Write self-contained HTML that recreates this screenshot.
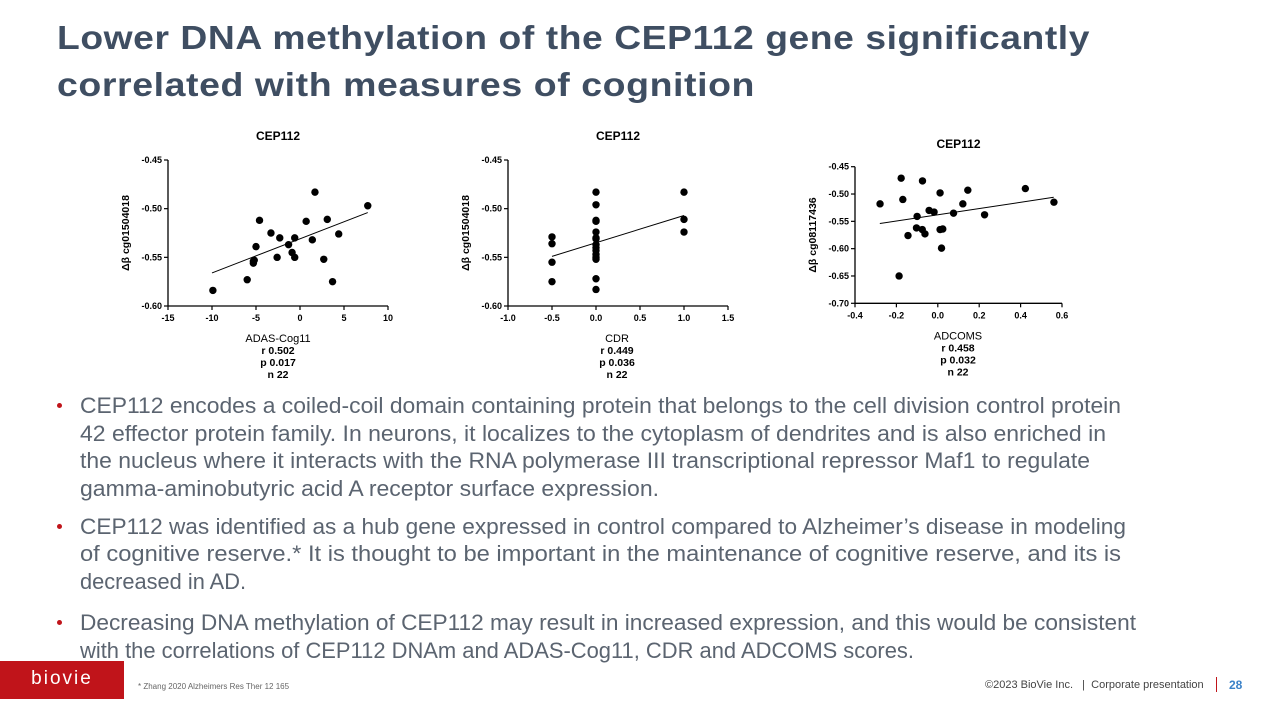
<!DOCTYPE html>
<html><head><meta charset="utf-8">
<style>
body{margin:0;width:1280px;height:720px;background:#fff;position:relative;overflow:hidden;font-family:"Liberation Sans",sans-serif}
.fit{position:absolute;white-space:nowrap;transform-origin:0 0}
.title{font-weight:bold;font-size:33px;color:#3f4e62;letter-spacing:0.5px}
.b{font-size:22px;color:#5b6470}
.dot{position:absolute;width:5px;height:5px;border-radius:50%;background:#c0141a}
</style></head><body>
<div class="fit title" data-w="1033" style="left:57px;top:19px">Lower DNA methylation of the CEP112 gene significantly</div>
<div class="fit title" data-w="698" style="left:57px;top:66px">correlated with measures of cognition</div>

<svg id="charts" width="1280" height="390" style="position:absolute;left:0;top:0" font-family="Liberation Sans, sans-serif"></svg>

<div>
<div class="dot" style="left:57px;top:403px"></div>
<div class="fit b" data-w="1041" style="left:80px;top:393px">CEP112 encodes a coiled-coil domain containing protein that belongs to the cell division control protein</div>
<div class="fit b" data-w="1026" style="left:80px;top:421px">42 effector protein family. In neurons, it localizes to the cytoplasm of dendrites and is also enriched in</div>
<div class="fit b" data-w="1010" style="left:80px;top:448px">the nucleus where it interacts with the RNA polymerase III transcriptional repressor Maf1 to regulate</div>
<div class="fit b" data-w="579" style="left:80px;top:476px">gamma-aminobutyric acid A receptor surface expression.</div>
</div>
<div>
<div class="dot" style="left:57px;top:524px"></div>
<div class="fit b" data-w="1046" style="left:80px;top:514px">CEP112 was identified as a hub gene expressed in control compared to Alzheimer’s disease in modeling</div>
<div class="fit b" data-w="1041" style="left:80px;top:541px">of cognitive reserve.*  It is thought to be important in the maintenance of cognitive reserve, and its is</div>
<div class="fit b" data-w="166" style="left:80px;top:569px">decreased in AD.</div>
</div>
<div>
<div class="dot" style="left:57px;top:620px"></div>
<div class="fit b" data-w="1056" style="left:80px;top:610px">Decreasing DNA methylation of CEP112 may result in increased expression, and this would be consistent</div>
<div class="fit b" data-w="834" style="left:80px;top:638px">with the correlations of CEP112 DNAm and ADAS-Cog11, CDR and ADCOMS scores.</div>
</div>

<div style="position:absolute;left:0;top:661px;width:124px;height:38px;background:#c0141a;color:#fff;font-size:19px;letter-spacing:2px;text-align:center;line-height:36px">biovie</div>
<div style="position:absolute;left:138px;top:682px;font-size:8px;color:#666">* Zhang 2020 Alzheimers Res Ther 12 165</div>
<div style="position:absolute;left:985px;top:679px;font-size:11px;color:#444">©2023 BioVie Inc. &nbsp;&nbsp;|&nbsp; Corporate presentation</div>
<div style="position:absolute;left:1216px;top:677px;width:1px;height:15px;background:#c0141a"></div>
<div style="position:absolute;left:1229px;top:678px;font-size:12px;font-weight:bold;color:#3b82c8">28</div>

<script>
// Chart 1: ADAS-Cog11
const adasX=[-9.9,-6.0,-5.3,-5.3,-5.0,-4.6,-3.3,-2.6,-2.3,-1.3,-0.9,-0.6,-0.6,0.7,1.4,1.7,2.7,3.1,3.7,4.4,7.7,-5.2];
const adasY=[-0.584,-0.573,-0.554,-0.556,-0.539,-0.512,-0.525,-0.550,-0.530,-0.537,-0.545,-0.550,-0.530,-0.513,-0.532,-0.483,-0.552,-0.511,-0.575,-0.526,-0.497,-0.553];
const adasFitX=[-10,7.7];
const adasFitY=[-0.566,-0.504];
const adasXTicks=[-15,-10,-5,0,5,10];
const adasYTicks=[-0.45,-0.50,-0.55,-0.60];
// Chart 2: CDR
const cdrX=[-0.5,-0.5,-0.5,-0.5,0,0,0,0,0,0,0,0,0,0,0,0,0,0,0,1,1,1];
const cdrY=[-0.529,-0.536,-0.555,-0.575,-0.483,-0.496,-0.512,-0.513,-0.524,-0.530,-0.531,-0.537,-0.540,-0.543,-0.547,-0.550,-0.552,-0.572,-0.583,-0.483,-0.511,-0.524];
const cdrFitX=[-0.5,1.0];
const cdrFitY=[-0.549,-0.507];
const cdrXTicks=[-1.0,-0.5,0.0,0.5,1.0,1.5];
const cdrYTicks=[-0.45,-0.50,-0.55,-0.60];
// Chart 3: ADCOMS
const adcX=[-0.279,-0.177,-0.169,-0.187,-0.144,-0.100,-0.103,-0.074,-0.075,-0.062,-0.042,-0.018,0.011,0.011,0.024,0.018,0.076,0.121,0.145,0.226,0.423,0.561];
const adcY=[-0.518,-0.471,-0.510,-0.650,-0.576,-0.541,-0.562,-0.476,-0.565,-0.573,-0.530,-0.533,-0.498,-0.565,-0.564,-0.599,-0.535,-0.518,-0.493,-0.538,-0.490,-0.515];
const adcFitX=[-0.28,0.56];
const adcFitY=[-0.554,-0.506];
const adcXTicks=[-0.4,-0.2,0.0,0.2,0.4,0.6];
const adcYTicks=[-0.45,-0.50,-0.55,-0.60,-0.65,-0.70];

const NS='http://www.w3.org/2000/svg';
const svg=document.getElementById('charts');
function mk(tag,attrs,parent,text){const e=document.createElementNS(NS,tag);for(const k in attrs)e.setAttribute(k,attrs[k]);if(text!==undefined)e.textContent=text;(parent||svg).appendChild(e);return e;}

function chart(cfg){
  const g=mk('g',{});
  
  
  const xs=v=>cfg.x0+(v-cfg.xmin)/(cfg.xmax-cfg.xmin)*(cfg.x1-cfg.x0);
  const ys=v=>cfg.y1-(v-cfg.ymin)/(cfg.ymax-cfg.ymin)*(cfg.y1-cfg.y0);
  const ax=mk('line',{x1:cfg.x0,y1:cfg.y1,x2:cfg.x1,y2:cfg.y1,stroke:'#000','stroke-width':1.3},g);
  
  
  const ay=mk('line',{x1:cfg.x0,y1:cfg.y0,x2:cfg.x0,y2:cfg.y1,stroke:'#000','stroke-width':1.3},g);
  
  
  cfg.xt.forEach(t=>{const x=xs(t);mk('line',{x1:x,y1:cfg.y1,x2:x,y2:cfg.y1+4,stroke:'#000','stroke-width':1.2},g);
    const l=mk('text',{x:x,y:cfg.y1+15,'font-size':9,'font-weight':'bold','text-anchor':'middle'},g,t.toFixed(cfg.xd));
    
    });
  cfg.yt.forEach(t=>{const y=ys(t);mk('line',{x1:cfg.x0-4,y1:y,x2:cfg.x0,y2:y,stroke:'#000','stroke-width':1.2},g);
    const l=mk('text',{x:cfg.x0-6,y:y+3,'font-size':9,'font-weight':'bold','text-anchor':'end'},g,t.toFixed(2));
    
    });
  const ti=mk('text',{x:(cfg.x0+cfg.x1)/2,y:cfg.ty,'font-size':12,'font-weight':'bold','text-anchor':'middle'},g,'CEP112');
  
  
  const yl=mk('text',{x:0,y:0,'font-size':10.5,'font-weight':'bold','text-anchor':'middle',transform:`translate(${cfg.x0-39},${(cfg.y0+cfg.y1)/2}) rotate(-90)`},g,cfg.ylab);
  
  
  cfg.stats.forEach((s,i)=>{const t=mk('text',{x:cfg.sx,y:cfg.y1+36+i*12,'font-size':i==0?11:10.5,'font-weight':i==0?'normal':'bold','text-anchor':'middle'},g,s);
    
    });
  const fl=mk('line',{x1:xs(cfg.fx[0]),y1:ys(cfg.fy[0]),x2:xs(cfg.fx[1]),y2:ys(cfg.fy[1]),stroke:'#000','stroke-width':1},g);
  
  
  cfg.px.forEach((v,i)=>{const c=mk('circle',{cx:xs(v),cy:ys(cfg.py[i]),r:3.7,fill:'#000'},g);
    
    });
}
chart({name:'adas-cog11-scatter',x0:168,x1:388,y0:160,y1:306,xmin:-15,xmax:10,ymin:-0.60,ymax:-0.45,xt:adasXTicks,yt:adasYTicks,xd:0,px:adasX,py:adasY,fx:adasFitX,fy:adasFitY,ty:140,ylab:'Δβ cg01504018',sx:278,stats:['ADAS-Cog11','r 0.502','p 0.017','n  22']});
chart({name:'cdr-scatter',x0:508,x1:728,y0:160,y1:306,xmin:-1,xmax:1.5,ymin:-0.60,ymax:-0.45,xt:cdrXTicks,yt:cdrYTicks,xd:1,px:cdrX,py:cdrY,fx:cdrFitX,fy:cdrFitY,ty:140,ylab:'Δβ cg01504018',sx:617,stats:['CDR','r 0.449','p 0.036','n 22']});
chart({name:'adcoms-scatter',x0:855,x1:1062,y0:166.7,y1:303.3,xmin:-0.4,xmax:0.6,ymin:-0.70,ymax:-0.45,xt:adcXTicks,yt:adcYTicks,xd:1,px:adcX,py:adcY,fx:adcFitX,fy:adcFitY,ty:148,ylab:'Δβ cg08117436',sx:958,stats:['ADCOMS','r 0.458','p 0.032','n 22']});

document.querySelectorAll('.fit').forEach(el=>{const w=+el.dataset.w;const r=el.getBoundingClientRect().width;if(r>0)el.style.transform=`scaleX(${w/r})`;});
</script>
</body></html>
